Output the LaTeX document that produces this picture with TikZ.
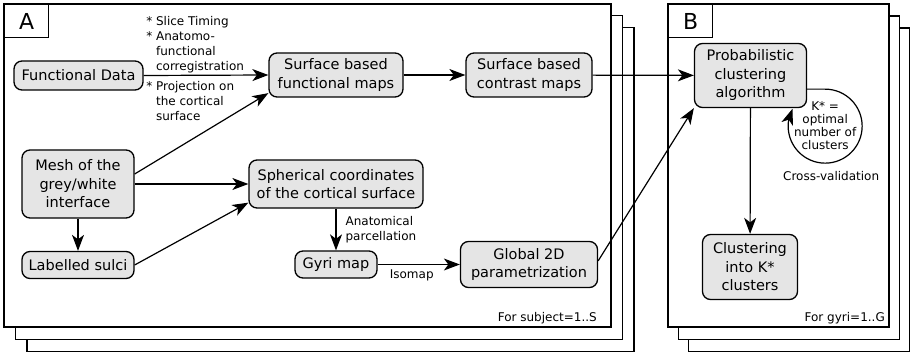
\documentclass[tikz,border=0pt]{standalone}
\usepackage{fontspec}
\setmainfont{DejaVu Sans}
\usetikzlibrary{arrows.meta,bending,calc,positioning}

\begin{document}
\begin{tikzpicture}[x=1pt,y=1pt,
    box/.style={draw, rounded corners=8pt, fill=black!10, line width=1.3pt, align=center, inner sep=2pt, font=\fontsize{14.5}{18.5}\selectfont},
    arr/.style={-{Stealth[length=16pt,width=12pt,inset=4.5pt]}, line width=1.2pt},
    note/.style={align=left, inner sep=2pt, font=\fontsize{12}{15}\selectfont},
    sheet/.style={draw, fill=white, line width=1.1pt},
    tag/.style={draw, fill=white, line width=1.1pt, font=\fontsize{22}{26}\selectfont, minimum width=44pt, minimum height=33pt, anchor=north west, inner sep=0pt}]
    \useasboundingbox (0,0) rectangle (910,354);
    \foreach \k in {2,1,0} {
        \draw[sheet] (4+11.5*\k,350-11.8*\k) rectangle (611+11.5*\k,27-12.4*\k);
        \draw[sheet] (668+10.2*\k,350-12*\k) rectangle (889+10.2*\k,27-12.4*\k);
    }
    \coordinate (cornerA) at (611,27);
    \coordinate (cornerB) at (889,27);
    \node[tag] (tagA) at (4,350) {A};
    \node[tag] (tagB) at (668,350) {B};

    \node[box, minimum width=129pt, minimum height=29pt] (fdata) at (78.5,278.5) {Functional Data};
    \node[box, minimum width=134pt, minimum height=44pt] (sfmaps) at (336,279) {Surface based\\functional maps};
    \node[box, minimum width=126pt, minimum height=44pt] (scmaps) at (529,279) {Surface based\\contrast maps};
    \node[box, minimum width=112pt, minimum height=68pt] (mesh) at (78,170) {Mesh of the\\grey/white\\interface};
    \node[box, minimum width=112pt, minimum height=27pt] (sulci) at (78,89) {Labelled sulci};
    \node[box, minimum width=174pt, minimum height=48pt] (sphere) at (336,170) {Spherical coordinates\\of the cortical surface};
    \node[box, minimum width=82pt, minimum height=27pt] (gyri) at (336,89.5) {Gyri map};
    \node[box, minimum width=137pt, minimum height=46pt] (global) at (529,89.5) {Global 2D\\parametrization};
    \node[box, minimum width=112pt, minimum height=64pt] (prob) at (750.5,278.5) {Probabilistic\\clustering\\algorithm};
    \node[box, minimum width=95pt, minimum height=65pt] (clust) at (750,87) {Clustering\\into K*\\clusters};

    \draw[arr] (fdata.east) -- (sfmaps.west)
        node[note, pos=0, anchor=south west] {* Slice Timing\\* Anatomo-\\\phantom{*} functional\\\phantom{*} corregistration}
        node[note, pos=0, anchor=north west, yshift=-3pt] {* Projection on\\\phantom{*} the cortical\\\phantom{*} surface};
    \draw[arr] (mesh.10) -- (sfmaps.195);
    \draw[arr] (mesh) -- (sphere);
    \draw[arr] (mesh) -- (sulci);
    \draw[arr] (sulci.east) -- (sphere.192);
    \draw[arr] (sphere) -- node[note, right, xshift=7pt] {Anatomical\\parcellation} (gyri);
    \draw[arr] (gyri) -- node[note, below, xshift=-7pt, yshift=-3pt] {Isomap} (global);
    \draw[arr] (sfmaps) -- (scmaps);
    \draw[arr] (scmaps) -- (prob);
    \draw[arr] (global.3) -- (prob.south west);
    \draw[arr] (prob) -- (clust);

    \coordinate (cvtop) at ($(prob.south east)+(18,19)$);
    \draw[arr] (prob.east |- cvtop) -- (cvtop) arc[start angle=90, end angle=-208, radius=37pt];
    \node[note, align=center, font=\fontsize{12}{13}\selectfont] (kstar) at ($(cvtop)+(0,-36)$) {K* =\\optimal\\number of\\clusters};
    \node[note] (cv) at ($(cvtop)+(6,-86.5)$) {Cross-validation};

    \node[note, anchor=base east] (subj) at ($(cornerA)+(-12,6)$) {For subject=1..S};
    \node[note, anchor=base east] (gyr) at ($(cornerB)+(-2,6)$) {For gyri=1..G};
\end{tikzpicture}
\end{document}
